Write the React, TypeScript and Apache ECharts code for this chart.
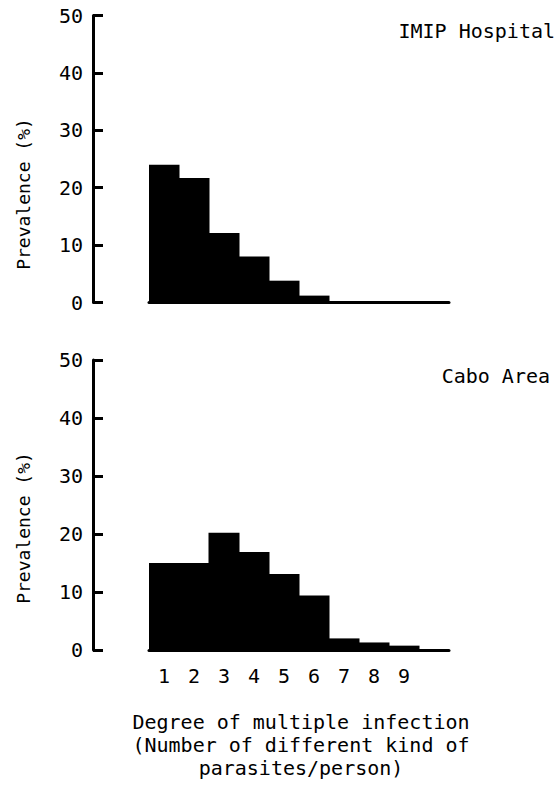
import React, { useEffect, useRef } from "react";
import * as echarts from "echarts";

const categories = ["1", "2", "3", "4", "5", "6", "7", "8", "9", ""];
const imipValues = [24, 21.7, 12.1, 8, 3.8, 1.2, 0, 0, 0, 0];
const caboValues = [15, 15, 20.2, 16.9, 13.1, 9.4, 2, 1.3, 0.75, 0];
const yTicks = [0, 10, 20, 30, 40, 50];
const titles = ["IMIP Hospital", "Cabo Area"];
const yName = "Prevalence (%)";
const xNameLines = [
  "Degree of multiple infection",
  "(Number of different kind of",
  "parasites/person)",
];

const FONT = "DejaVu Sans Mono";

export default function App() {
  const ref = useRef<HTMLDivElement>(null);
  useEffect(() => {
    if (!ref.current) return;
    const chart = echarts.init(ref.current, null, { renderer: "svg" });
    const yAxisBase = (gridIndex: number) => ({
      type: "value",
      gridIndex,
      min: yTicks[0],
      max: yTicks[yTicks.length - 1],
      interval: 10,
      offset: 56,
      axisLine: { show: true, lineStyle: { color: "#000", width: 3 } },
      axisTick: { show: true, inside: true, length: 10, lineStyle: { color: "#000", width: 3 } },
      axisLabel: { color: "#000", fontFamily: FONT, fontSize: 20, margin: 10 },
      splitLine: { show: false },
    });
    const xAxisBase = (gridIndex: number, showLabels: boolean) => ({
      type: "category",
      gridIndex,
      data: categories,
      axisLine: { show: true, onZero: false, lineStyle: { color: "#000", width: 3 } },
      axisTick: { show: false },
      axisLabel: {
        show: showLabels,
        interval: 0,
        color: "#000",
        fontFamily: FONT,
        fontSize: 20,
        margin: 16,
      },
      splitLine: { show: false },
    });
    const barStyle = { color: "#000" };
    const option = {
      animation: false,
      backgroundColor: "#fff",
      grid: [
        { left: 149, width: 300, top: 15.5, height: 287 },
        { left: 149, width: 300, top: 360, height: 290 },
      ],
      xAxis: [xAxisBase(0, false), xAxisBase(1, true)],
      yAxis: [yAxisBase(0), yAxisBase(1)],
      series: [
        {
          type: "bar",
          xAxisIndex: 0,
          yAxisIndex: 0,
          data: imipValues,
          barWidth: 31,
          itemStyle: barStyle,
        },
        {
          type: "bar",
          xAxisIndex: 1,
          yAxisIndex: 1,
          data: caboValues,
          barWidth: 31,
          itemStyle: barStyle,
        },
      ],
      graphic: [
        {
          type: "text",
          right: 3,
          top: 21,
          style: { text: titles[0], fill: "#000", font: `20px "${FONT}"` },
        },
        {
          type: "text",
          right: 8,
          top: 366,
          style: { text: titles[1], fill: "#000", font: `20px "${FONT}"` },
        },
        {
          type: "text",
          x: 23,
          y: 194,
          rotation: Math.PI / 2,
          style: {
            text: yName,
            fill: "#000",
            font: `18px "${FONT}"`,
            align: "center",
            verticalAlign: "middle",
          },
        },
        {
          type: "text",
          x: 23,
          y: 528,
          rotation: Math.PI / 2,
          style: {
            text: yName,
            fill: "#000",
            font: `18px "${FONT}"`,
            align: "center",
            verticalAlign: "middle",
          },
        },
        {
          type: "text",
          x: 301,
          y: 710,
          style: {
            text: xNameLines.join("\n"),
            fill: "#000",
            font: `20px "${FONT}"`,
            align: "center",
            verticalAlign: "top",
            lineHeight: 23,
          },
        },
      ],
    };
    chart.setOption(option as any);
    return () => chart.dispose();
  }, []);
  return (
    <div
      ref={ref}
      style={{ position: "fixed", left: 0, top: 0, width: 558, height: 786 }}
    />
  );
}
